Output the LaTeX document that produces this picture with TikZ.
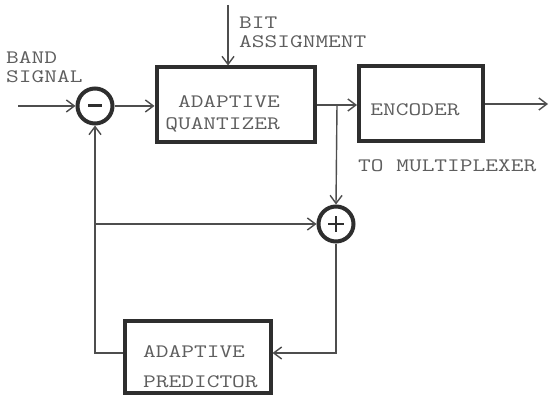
\documentclass[tikz,border=0pt]{standalone}
\usepackage{fontspec}
\newfontfamily\typefont[FakeStretch=1.3]{Latin Modern Mono}
\usetikzlibrary{arrows.meta}
\definecolor{ink}{HTML}{2E2E2E}
\definecolor{wire}{HTML}{4E4E4E}
\definecolor{type}{HTML}{5E5E5E}
\tikzset{
  blk/.style={draw=ink, line width=4pt, rectangle, inner sep=0pt},
  sumnode/.style={draw=ink, line width=4pt, circle, minimum size=35pt, inner sep=0pt},
  wireline/.style={draw=wire, line width=1.4pt},
  conn/.style={wireline, -{Straight Barb[length=8pt,width=12pt,line width=1.4pt]}},
  lbl/.style={text=type, font=\typefont\fontsize{19}{19}\selectfont, inner sep=0pt},
}
\begin{document}
\begin{tikzpicture}[x=1pt,y=-1pt]
\useasboundingbox (0,0) rectangle (550,396);
\fill[white] (0,0) rectangle (550,396);

% blocks
\node[blk, minimum width=158pt, minimum height=75pt] (q) at (235.5,105) {};
\node[blk, minimum width=124pt, minimum height=75pt] (enc) at (421,104) {};
\node[blk, minimum width=146pt, minimum height=72pt] (pr) at (197.5,357) {};

% summing junctions
\node[sumnode] (sub) at (95,106) {};
\node[sumnode] (add) at (336,224) {};
\draw[ink, line width=3pt] ([xshift=-7pt]sub.center) -- ([xshift=7pt]sub.center);
\draw[ink, line width=1.3pt] ([xshift=-8pt]add.center) -- ([xshift=8pt]add.center)
  ([yshift=-8pt]add.center) -- ([yshift=8pt]add.center);

% texts
\node[lbl, align=right, anchor=east] (qt) at (280,114) {ADAPTIVE\\[3pt]QUANTIZER};
\node[lbl] (et) at (415,110) {ENCODER};
\node[lbl, align=left, anchor=west] (pt) at (143,367) {ADAPTIVE\\[11pt]PREDICTOR};
\node[lbl, align=left, anchor=west] (bt) at (239,32) {BIT\\ASSIGNMENT};
\node[lbl, align=left, anchor=west] (st) at (6,67) {BAND\\SIGNAL};
\node[lbl, anchor=west] (mt) at (358,166) {TO MULTIPLEXER};

% free ends and corners
\coordinate (in) at (18,106);
\coordinate (bit) at (228,5);
\coordinate (out) at (548,104);
\coordinate (br) at (337,105);
\coordinate (fl) at (95,224);
\coordinate (fb) at (336,353);

% forward path
\draw[conn] (in) -- (sub.west);
\draw[conn] (sub.east) -- (q.west |- sub.east);
\draw[conn] (bit) -- (bit |- q.north);
\draw[conn] (q.east |- br) -- (enc.west |- br);
\draw[conn] (enc.east) -- (out);

% reconstruction and prediction loop
\draw[conn] (br) -- (add.north);
\draw[conn] (fl) -- (add.west);
\draw[conn] (add.south) -- (fb) -- (fb -| pr.east);
\draw[conn] (fb -| pr.west) -| (sub.south);
\end{tikzpicture}
\end{document}
